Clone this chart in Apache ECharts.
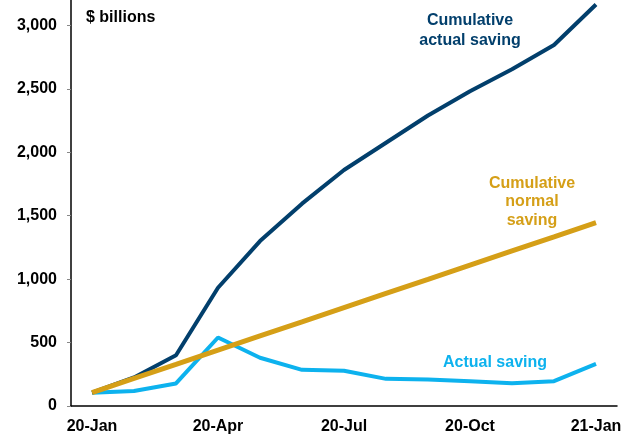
<!DOCTYPE html>
<html>
<head>
<meta charset="utf-8">
<script src="https://cdn.jsdelivr.net/npm/echarts@6/dist/echarts.min.js"></script>
<style>
html,body{margin:0;padding:0;background:#fff;}
#chart{width:626px;height:434px;}
</style>
</head>
<body>
<div id="chart"></div>
<script>
const months = ['20-Jan','20-Feb','20-Mar','20-Apr','20-May','20-Jun','20-Jul','20-Aug','20-Sep','20-Oct','20-Nov','20-Dec','21-Jan'];
const cumulativeActual = [105, 225, 400, 932, 1300, 1595, 1860, 2075, 2290, 2480, 2655, 2845, 3165];
const cumulativeNormal = [105, 217, 328, 440, 552, 663, 775, 887, 998, 1110, 1222, 1333, 1445];
const actualSaving = [105, 118, 178, 540, 380, 285, 278, 214, 208, 196, 180, 196, 332];
const yTicks = [0, 500, 1000, 1500, 2000, 2500, 3000];

const FONT = "'Liberation Sans', Arial, sans-serif";
const NAVY = '#023f6c';
const GOLD = '#d59f17';
const LIGHT = '#0db2ee';

const chart = echarts.init(document.getElementById('chart'), null, {renderer: 'canvas'});
chart.setOption({
  animation: false,
  backgroundColor: '#fff',
  grid: {left: 71, right: 9, top: 0, bottom: 28, containLabel: false, outerBoundsMode: 'none'},
  xAxis: {
    type: 'category',
    data: months,
    boundaryGap: true,
    axisLine: {lineStyle: {color: '#000', width: 1.5}},
    axisTick: {interval: 2, length: 4, lineStyle: {color: '#888'}},
    axisLabel: {interval: 2, margin: 13, color: '#000', fontFamily: FONT, fontWeight: 'bold', fontSize: 16},
    splitLine: {show: false}
  },
  yAxis: {
    type: 'value',
    min: 0, max: 3200,
    axisLine: {show: true, lineStyle: {color: '#000', width: 1.5}},
    axisTick: {show: true, length: 4, customValues: yTicks, lineStyle: {color: '#888'}},
    axisLabel: {customValues: yTicks, margin: 14, color: '#000', fontFamily: FONT, fontWeight: 'bold', fontSize: 16,
      formatter: v => v.toLocaleString('en-US')},
    splitLine: {show: false}
  },
  series: [
    {type: 'line', data: actualSaving, symbol: 'none', lineStyle: {color: LIGHT, width: 4}, z: 2},
    {type: 'line', data: cumulativeActual, symbol: 'none', lineStyle: {color: NAVY, width: 4}, z: 3},
    {type: 'line', data: cumulativeNormal, symbol: 'none', lineStyle: {color: GOLD, width: 5}, z: 4}
  ],
  graphic: [
    {type: 'text', x: 86, y: 18, style: {text: '$ billions', fill: '#000', font: "bold 16px " + FONT, verticalAlign: 'middle'}},
    {type: 'text', x: 470, y: 31, style: {text: 'Cumulative\nactual saving', fill: NAVY, font: "bold 16px " + FONT, align: 'center', verticalAlign: 'middle', lineHeight: 20}},
    {type: 'text', x: 532, y: 202, style: {text: 'Cumulative\nnormal\nsaving', fill: GOLD, font: "bold 16px " + FONT, align: 'center', verticalAlign: 'middle', lineHeight: 18.5}},
    {type: 'text', x: 495, y: 363, style: {text: 'Actual saving', fill: LIGHT, font: "bold 16px " + FONT, align: 'center', verticalAlign: 'middle'}}
  ]
});
</script>
</body>
</html>
